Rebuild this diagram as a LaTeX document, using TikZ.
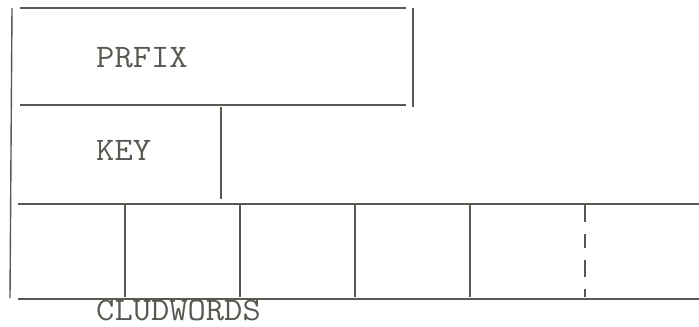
\documentclass[tikz,border=0pt]{standalone}
\usetikzlibrary{positioning}
\definecolor{ink}{HTML}{5A5850}
\tikzset{
  rule/.style={draw=ink, line width=2.6pt},
  wall/.style={draw=ink, line width=1.4pt},
  fieldtxt/.style={inner sep=0pt, anchor=base west, text=ink, xscale=1.08,
                   font=\ttfamily\fontsize{33}{33}\selectfont}}
\begin{document}
\begin{tikzpicture}[x=1bp,y=-1bp]
  \useasboundingbox (0,0) rectangle (699,326);
  % prefix field
  \draw[rule] (20,8) -- (406,8);
  \draw[rule] (20,105) -- (406,105);
  \draw[wall] (413,8) -- (413,107);
  \node[fieldtxt] (prfix) at (96,67) {PRFIX};
  % key field
  \draw[wall] (221,107) -- (221,199);
  \node[fieldtxt] (key) at (96,160) {KEY};
  \draw[wall] (12,8) -- (10,298);
  % word row
  \draw[rule] (18,204) -- (699,204);
  \draw[rule] (18,299) -- (699,299);
  \foreach \x in {125,240,355,470}
    \draw[wall] (\x,205) -- (\x,297);
  \draw[wall, dash pattern=on 17bp off 12bp on 14bp off 12bp] (585,205) -- (585,297);
  \node[fieldtxt] (cludwords) at (96,320) {CLUDWORDS};
\end{tikzpicture}
\end{document}
